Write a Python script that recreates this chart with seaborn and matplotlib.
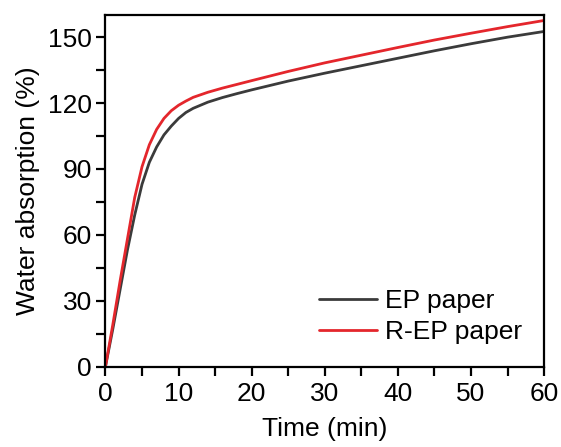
import numpy as np
import pandas as pd
import matplotlib
matplotlib.use("Agg")
import matplotlib.pyplot as plt
from matplotlib.ticker import MultipleLocator
import seaborn as sns

# Immersion time (min) and water uptake (%) for both papers
time_min = [0, 1, 2, 3, 4, 5, 6, 7, 8, 9, 10, 11, 12, 14, 16, 18, 20,
            25, 30, 35, 40, 45, 50, 55, 60]
ep_paper = [0, 17, 35, 53, 69, 83, 93, 100, 105.5, 109.5, 113, 115.7, 117.6,
            120.4, 122.5, 124.3, 126, 130, 133.6, 137, 140.4, 143.8, 147,
            150, 152.6]
rep_paper = [0, 19, 39, 58, 77, 91, 101, 108, 113, 116.5, 119, 120.9, 122.6,
             124.9, 126.8, 128.5, 130.2, 134.4, 138.3, 141.8, 145.3, 148.7,
             151.8, 154.8, 157.6]
series_names = ["EP paper", "R-EP paper"]
series_colors = ["#3b3b3b", "#e4262c"]

df = pd.DataFrame({
    "Time (min)": time_min * 2,
    "Water absorption (%)": ep_paper + rep_paper,
    "Sample": [series_names[0]] * len(time_min) + [series_names[1]] * len(time_min),
})

sns.set_style("ticks")
plt.rcParams["font.family"] = ["Liberation Sans", "DejaVu Sans"]

FS = 19

fig = plt.figure(figsize=(5.61, 4.47), dpi=100)
ax = fig.add_axes([0.188, 0.180, 0.782, 0.786])

sns.lineplot(data=df, x="Time (min)", y="Water absorption (%)", hue="Sample",
             hue_order=series_names, palette=series_colors, linewidth=2.0,
             ax=ax)

ax.set_xlim(0, 60)
ax.set_ylim(0, 160)
ax.xaxis.set_major_locator(MultipleLocator(10))
ax.xaxis.set_minor_locator(MultipleLocator(5))
ax.yaxis.set_major_locator(MultipleLocator(30))
ax.yaxis.set_minor_locator(MultipleLocator(15))

for side in ["left", "right", "top", "bottom"]:
    ax.spines[side].set_visible(True)
    ax.spines[side].set_linewidth(1.6)
    ax.spines[side].set_color("black")

ax.tick_params(which="both", direction="out", length=6.3, width=1.6,
               color="black", top=False, right=False)
ax.tick_params(which="major", labelsize=FS, labelcolor="black")
ax.tick_params(axis="y", which="major", pad=3.5)
ax.tick_params(axis="x", which="major", pad=4.5)

ax.set_xlabel("Time (min)", fontsize=FS, labelpad=8, color="black")
ax.set_ylabel("Water absorption (%)", fontsize=FS, labelpad=6, color="black")

leg = ax.legend(loc="lower right", frameon=False, fontsize=FS,
                handlelength=2.2, handletextpad=0.3, labelspacing=0.27,
                borderaxespad=0.45, labelcolor="black")
for line in leg.get_lines():
    line.set_linewidth(2.0)

fig.savefig("out.png", dpi=100)
